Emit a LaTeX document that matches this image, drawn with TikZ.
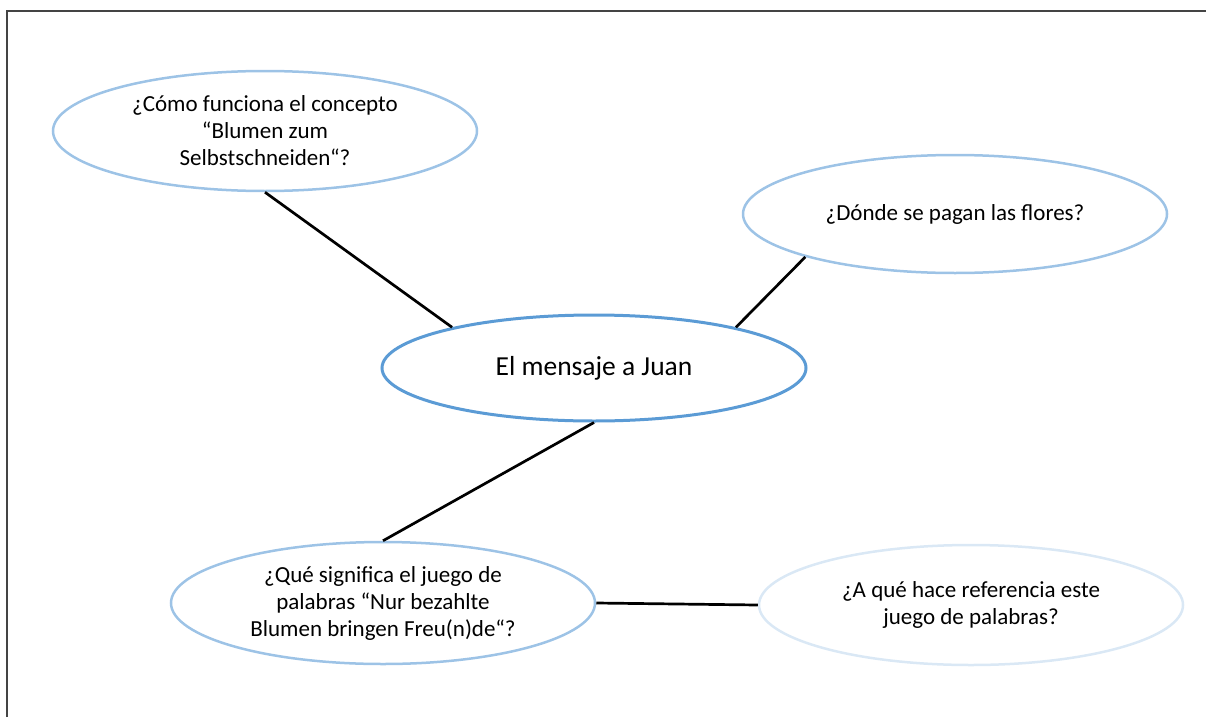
\documentclass[tikz,border=0pt]{standalone}
\usepackage{fontspec}
\setmainfont{Carlito}
\usetikzlibrary{shapes.geometric}
\definecolor{lightblue}{HTML}{9DC3E6}
\definecolor{midblue}{HTML}{5B9BD5}
\definecolor{paleblue}{HTML}{DAE8F5}
\definecolor{framegray}{HTML}{444444}
\tikzset{
  bubble/.style={ellipse, draw=lightblue, line width=2.5pt, inner sep=0pt,
    minimum width=424pt, minimum height=120pt, align=center,
    font=\fontsize{23}{27}\selectfont},
  mainbubble/.style={bubble, draw=midblue, line width=3pt, minimum height=106pt,
    font=\fontsize{27.5}{32}\selectfont},
  palebubble/.style={bubble, draw=paleblue},
  link/.style={draw=black, line width=2.7pt}
}
\begin{document}
\begin{tikzpicture}[x=1pt,y=-1pt]
\useasboundingbox (0,0) rectangle (1206,717);
\draw[framegray, line width=1.6pt] (7,717) -- (7,11) -- (1206,11);
\node[bubble] (q1) at (265,131) {¿Cómo funciona el concepto\\“Blumen zum\\Selbstschneiden“?};
\node[bubble, minimum height=118pt] (q2) at (955,214) {¿Dónde se pagan las flores?};
\node[mainbubble] (main) at (594,368) {El mensaje a Juan};
\node[bubble, minimum height=122pt] (q3) at (383,603) {¿Qué significa el juego de\\palabras “Nur bezahlte\\Blumen bringen Freu(n)de“?};
\node[palebubble] (q4) at (971,605) {¿A qué hace referencia este\\juego de palabras?};
\draw[link] (q1.south) -- (main.164);
\draw[link] (q2.196) -- (main.16);
\draw[link] (main.south) -- (q3.north);
\draw[link] (q3.east) -- (q4.west);
\end{tikzpicture}
\end{document}
